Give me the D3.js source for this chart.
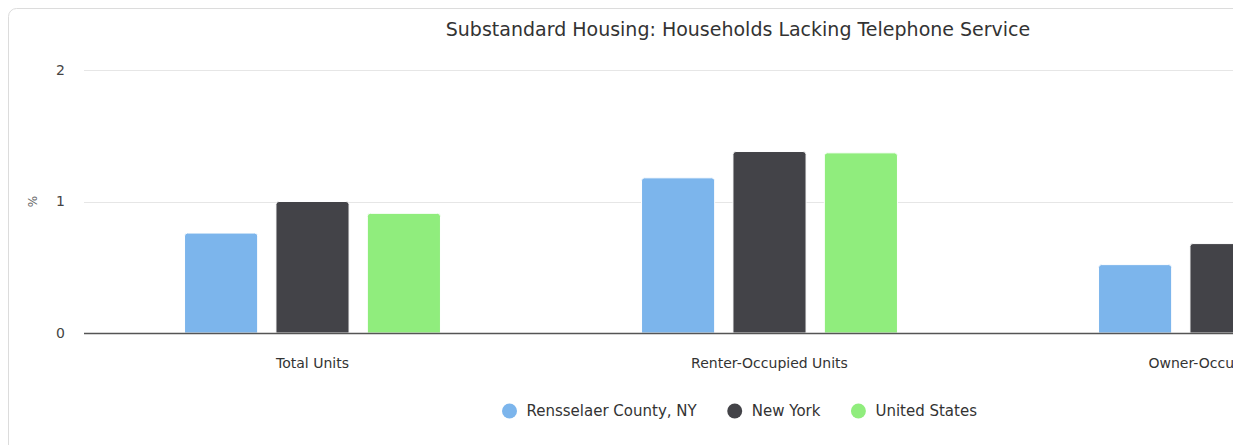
<!DOCTYPE html>
<html>
<head>
<meta charset="utf-8">
<script src="https://cdn.jsdelivr.net/npm/d3@7"></script>
<style>
  html, body { margin: 0; padding: 0; background: #fff; overflow: hidden; }
  svg { display: block; font-family: "DejaVu Sans", "Lucida Grande", sans-serif; }
</style>
</head>
<body>
<svg id="chart" width="1233" height="445"></svg>
<script>
// Household telephone-service gaps, percent of households
const categories = ["Total Units", "Renter-Occupied Units", "Owner-Occupied Units"];
const seriesNames = ["Rensselaer County, NY", "New York", "United States"];
const rensselaer = [0.76, 1.18, 0.52];
const newYork = [1.00, 1.38, 0.68];
const unitedStates = [0.91, 1.37, 0.62];
const yTicks = [0, 1, 2];
const colors = ["#7cb5ec", "#434348", "#90ed7d"];

const seriesValues = [rensselaer, newYork, unitedStates];

const svg = d3.select("#chart");

// Chart frame (extends past the right and bottom edges of the view)
svg.append("rect")
  .attr("x", 8.5).attr("y", 8.5)
  .attr("width", 1480).attr("height", 480)
  .attr("rx", 8).attr("ry", 8)
  .attr("fill", "#fff")
  .attr("stroke", "#dcdcdc").attr("stroke-width", 1);

const plot = { left: 84, top: 70, bottom: 333 };
const catStep = 457;
const plotRight = plot.left + catStep * categories.length;

const x0 = d3.scaleBand()
  .domain(categories)
  .range([plot.left, plotRight])
  .paddingInner(0).paddingOuter(0);

const x1 = d3.scaleBand()
  .domain(seriesNames)
  .range([catStep * 0.2, catStep * 0.8])
  .paddingInner(0.2).paddingOuter(0.1);

const y = d3.scaleLinear().domain([0, 2]).range([plot.bottom, plot.top]);

// Grid lines
svg.append("g")
  .selectAll("line")
  .data(yTicks.filter(t => t !== 0))
  .join("line")
  .attr("x1", plot.left).attr("x2", plotRight)
  .attr("y1", d => Math.round(y(d)) + 0.5).attr("y2", d => Math.round(y(d)) + 0.5)
  .attr("stroke", "#e6e6e6").attr("stroke-width", 1);

// Y axis labels
const yAxis = d3.axisLeft(y).tickValues(yTicks).tickSize(0).tickPadding(0).tickFormat(d3.format("d"));
const yg = svg.append("g").attr("transform", `translate(${plot.left - 19},0)`).call(yAxis);
yg.select(".domain").remove();
yg.selectAll("text")
  .attr("font-size", 14).attr("fill", "#444")
  .attr("font-family", "DejaVu Sans, sans-serif")
  .attr("dy", "0.32em");

// Y axis title
svg.append("text")
  .attr("transform", `translate(37,${y(1)}) rotate(-90)`)
  .attr("text-anchor", "middle")
  .attr("font-size", 12).attr("fill", "#666")
  .text("%");

// Rounded-top bar path
function barPath(x, yTop, w, h, r) {
  r = Math.min(r, h, w / 2);
  return `M${x},${yTop + h}V${yTop + r}Q${x},${yTop} ${x + r},${yTop}` +
         `H${x + w - r}Q${x + w},${yTop} ${x + w},${yTop + r}V${yTop + h}Z`;
}

// Bars
const groups = svg.append("g")
  .selectAll("g")
  .data(categories)
  .join("g")
  .attr("transform", d => `translate(${x0(d)},0)`);

groups.selectAll("path")
  .data((c, ci) => seriesNames.map((s, si) => ({ s, si, v: seriesValues[si][ci] })))
  .join("path")
  .attr("d", d => barPath(x1(d.s), y(d.v), x1.bandwidth(), y(0) - y(d.v), 3))
  .attr("fill", d => colors[d.si])
  .attr("stroke", "#fff").attr("stroke-width", 1);

// X axis line
svg.append("line")
  .attr("x1", plot.left).attr("x2", plotRight)
  .attr("y1", plot.bottom + 0.5).attr("y2", plot.bottom + 0.5)
  .attr("stroke", "#555").attr("stroke-width", 1.5);

// X axis labels
const xAxis = d3.axisBottom(x0).tickSize(0).tickPadding(0);
const xg = svg.append("g").attr("transform", `translate(0,${plot.bottom + 35})`).call(xAxis);
xg.select(".domain").remove();
xg.selectAll("text")
  .attr("font-size", 14).attr("fill", "#333")
  .attr("font-family", "DejaVu Sans, sans-serif")
  .attr("dy", 0);

// Title
svg.append("text")
  .attr("x", 738).attr("y", 36)
  .attr("text-anchor", "middle")
  .attr("font-size", 19).attr("fill", "#333")
  .text("Substandard Housing: Households Lacking Telephone Service");

// Legend
const legend = svg.append("g");
const items = legend.selectAll("g").data(seriesNames).join("g");
items.append("circle").attr("r", 7.5).attr("cy", 0).attr("cx", 0)
  .attr("fill", (d, i) => colors[i]);
items.append("text").attr("x", 17).attr("y", 0).attr("dy", "0.36em")
  .attr("font-size", 15).attr("fill", "#333")
  .text(d => d);
let cursor = 0;
items.each(function () {
  const g = d3.select(this);
  g.attr("transform", `translate(${cursor},0)`);
  const w = 17 + g.select("text").node().getComputedTextLength();
  cursor += w + 38;
});
const legendWidth = cursor - 38 + 7.5;
legend.attr("transform", `translate(${739.5 - legendWidth / 2 + 7.5},411)`);
</script>
</body>
</html>
